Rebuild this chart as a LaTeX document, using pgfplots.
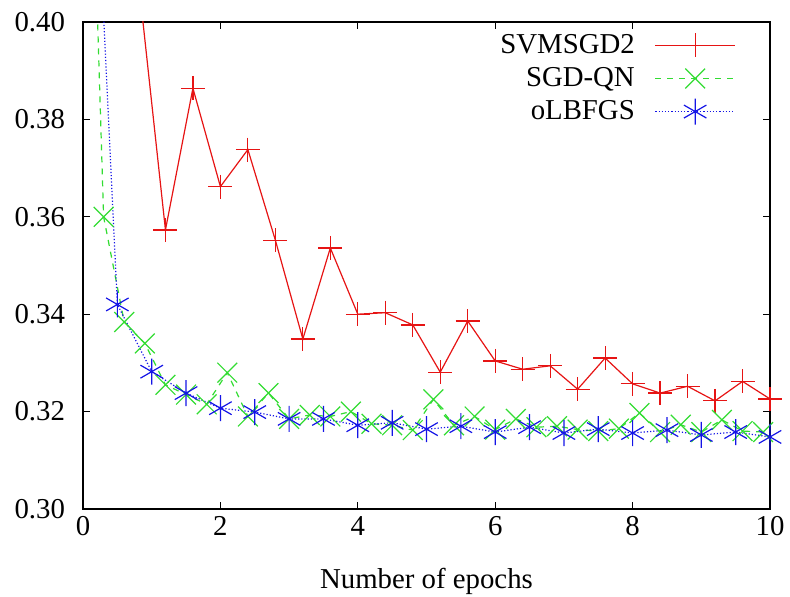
\documentclass[border=0pt]{standalone}
\usepackage{fontspec}
\setmainfont{Liberation Serif}
\newfontfamily\tickfont{Liberation Serif}
\usepackage{pgfplots}
\pgfplotsset{compat=1.18}
\definecolor{gpred}{RGB}{230,20,20}
\definecolor{gpgreen}{RGB}{50,220,50}
\definecolor{gpblue}{RGB}{20,20,230}
\newcommand{\chartfont}{\fontsize{14.4}{17}\selectfont}
\begin{document}
\begin{tikzpicture}
\useasboundingbox (-41.5pt,-44pt) rectangle (353.5pt,254.5pt);
\begin{axis}[
  scale only axis,
  width=343.5pt, height=243.5pt,
  xmin=0, xmax=10, ymin=0.30, ymax=0.40,
  xtick={0,2,4,6,8,10},
  ytick={0.30,0.32,0.34,0.36,0.38,0.40},
  xticklabels={0,2,4,6,8,10},
  yticklabels={0.30,0.32,0.34,0.36,0.38,0.40},
  tick align=inside,
  major tick length=3.5pt,
  tick style={black, line width=0.6pt},
  axis line style={black, line width=0.7pt},
  tick label style={font=\tickfont\chartfont},
  yticklabel style={xshift=-5.5pt},
  xlabel={Number of epochs},
  xlabel style={font=\chartfont, yshift=-9.5pt},
  legend style={draw=none, fill=none, font=\chartfont, at={(1,1)}, anchor=north east, xshift=-14pt, yshift=-2pt, row sep=1.5pt},
  legend cell align=right,
  legend plot pos=right,
  legend image code/.code={\path (-0.28cm,0cm); \draw[mark repeat=2,mark phase=2,#1] plot coordinates {(0cm,0cm) (0.7cm,0cm) (1.4cm,0cm)};},
]
\addplot[color=gpred, line width=0.6pt, mark=+, mark size=6pt, mark options={solid}] table {
x y
0.8 0.4095
1.2 0.3573
1.6 0.3864
2.0 0.3662
2.4 0.3738
2.8 0.3552
3.2 0.3349
3.6 0.3536
4.0 0.3400
4.4 0.3403
4.8 0.3378
5.2 0.3281
5.6 0.3386
6.0 0.3304
6.4 0.3287
6.8 0.3294
7.2 0.3246
7.6 0.3310
8.0 0.3257
8.4 0.3238
8.8 0.3252
9.2 0.3222
9.6 0.3262
10.0 0.3226
};
\addlegendentry{SVMSGD2}
\addplot[color=gpgreen, line width=0.6pt, dashed, mark=x, mark size=7pt, mark options={solid}] table {
x y
0.0 0.498
0.3 0.360
0.6 0.3384
0.9 0.334
1.2 0.3255
1.5 0.3235
1.8 0.3215
2.1 0.328
2.4 0.319
2.7 0.3238
3.0 0.3185
3.3 0.3193
3.6 0.319
3.9 0.3200
4.2 0.3175
4.5 0.3172
4.8 0.3162
5.1 0.3225
5.4 0.3172
5.7 0.3190
6.0 0.3163
6.3 0.3185
6.6 0.3168
6.9 0.3170
7.2 0.3163
7.5 0.3160
7.8 0.3165
8.1 0.3197
8.4 0.3158
8.7 0.3173
9.0 0.3158
9.3 0.3183
9.6 0.3160
9.9 0.3158
};
\addlegendentry{SGD-QN}
\addplot[color=gpblue, line width=0.6pt, densely dotted, mark=asterisk, mark size=6.5pt, mark options={solid}] table {
x y
0.0 0.49
0.5 0.342
1.0 0.3282
1.5 0.3238
2.0 0.3207
2.5 0.3199
3.0 0.3185
3.5 0.3185
4.0 0.3172
4.5 0.3177
5.0 0.3164
5.5 0.3170
6.0 0.3158
6.5 0.3168
7.0 0.3156
7.5 0.3164
8.0 0.3156
8.5 0.3162
9.0 0.3152
9.5 0.3158
10.0 0.3148
};
\addlegendentry{oLBFGS}
\end{axis}
\end{tikzpicture}
\end{document}
